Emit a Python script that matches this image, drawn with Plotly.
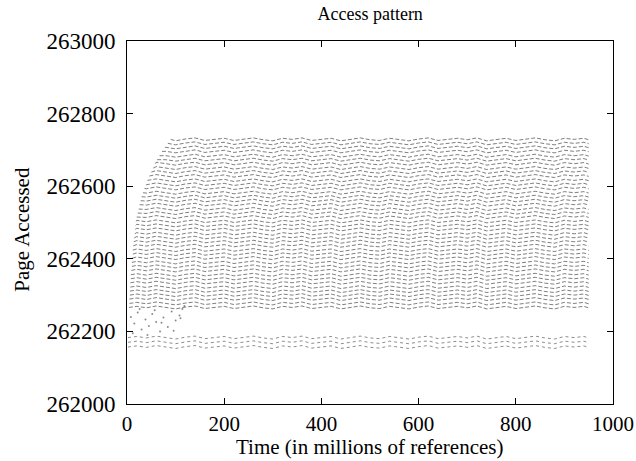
import plotly.graph_objects as go

# Page rows of the main working set (upper band)
upper_pages = [262266, 262277, 262289, 262300, 262311, 262322, 262334, 262345,
               262356, 262368, 262379, 262390, 262402, 262413, 262424, 262436,
               262447, 262458, 262469, 262481, 262492, 262503, 262515, 262526,
               262537, 262549, 262560, 262571, 262582, 262594, 262605, 262616,
               262628, 262639, 262650, 262662, 262673, 262684, 262696, 262707,
               262718, 262729]
# Time (millions of references) at which each upper row is first touched
upper_start = [4, 5, 5, 6, 6, 7, 7, 8, 8, 9, 10, 10, 11, 12, 12, 13, 14, 15,
               16, 17, 18, 19, 20, 22, 24, 26, 28, 30, 33, 36, 39, 42, 46, 50,
               54, 58, 62, 67, 72, 78, 84, 90]

# Lower band rows (small, separately accessed region)
lower_pages = [262183, 262170, 262157]
lower_start = [2, 2, 2]

end_time = 950

# Sampling times and the drift of each row around its page number
knot_t = [0, 20, 40, 60, 80, 100, 120, 140, 160, 180, 200, 220, 240, 260, 280,
          300, 320, 340, 360, 380, 400, 420, 440, 460, 480, 500, 520, 540, 560,
          580, 600, 620, 640, 660, 680, 700, 720, 740, 760, 780, 800, 820, 840,
          860, 880, 900, 920, 940, 950]
drift = [0, 3, -1, 4, 0, -4, 1, 4, -3, 0, 3, -3, 1, 4, -1, -4, 3, 0, 4, -3,
         0, 3, -4, 1, 4, -1, -3, 3, 0, -4, 1, 4, -3, 0, 3, -1, 4, -4, 0, 3,
         -3, 1, 4, -1, -4, 3, 0, 3, -1]

# Scattered early accesses in the gap between the two bands
sparse_t = [8, 15, 22, 30, 38, 45, 52, 60, 68, 75, 84, 92, 100, 108, 114, 118,
            12, 26, 42, 57, 71, 96, 110]
sparse_p = [262240, 262222, 262252, 262205, 262233, 262215, 262248, 262226,
            262200, 262238, 262212, 262255, 262230, 262244, 262262, 262270,
            262195, 262262, 262190, 262258, 262224, 262202, 262236]


def row_path(page, start):
    xs, ys = [start], [page + drift[0]]
    for t, d in zip(knot_t, drift):
        if start < t <= end_time:
            xs.append(t)
            ys.append(page + d)
    return xs, ys


def band_trace(pages, starts, dash, color):
    bx, by = [], []
    for p, s in zip(pages, starts):
        xs, ys = row_path(p, s)
        bx += xs + [None]
        by += ys + [None]
    return go.Scatter(x=bx, y=by, mode="lines", connectgaps=False,
                      line=dict(color=color, width=1, dash=dash),
                      hoverinfo="skip", showlegend=False)


fig = go.Figure()
fig.add_trace(band_trace(upper_pages, upper_start, "4px,2px", "rgba(0,0,0,0.5)"))
fig.add_trace(band_trace(lower_pages, lower_start, "3px,3px", "rgba(0,0,0,0.45)"))
fig.add_trace(go.Scatter(x=sparse_t, y=sparse_p, mode="markers",
                         marker=dict(size=2, color="rgba(0,0,0,0.45)"),
                         hoverinfo="skip", showlegend=False))

font = "Liberation Serif, Times New Roman, serif"
axis_common = dict(showline=True, linecolor="black", linewidth=1, mirror="ticks",
                   ticks="inside", ticklen=6, tickcolor="black", showgrid=False,
                   zeroline=False, automargin=False)

fig.update_layout(
    width=636, height=461,
    margin=dict(l=127, r=23, t=41, b=57),
    paper_bgcolor="white", plot_bgcolor="white",
    title=dict(text="Access pattern", x=0.582, xanchor="center", y=0.97,
               yanchor="middle", font=dict(family=font, size=18, color="black")),
    xaxis=dict(range=[0, 1000], tickvals=[0, 200, 400, 600, 800, 1000],
               ticklabelstandoff=1,
               tickfont=dict(family=font, size=21, color="black"),
               **axis_common),
    yaxis=dict(range=[262000, 263000],
               tickvals=[262000, 262200, 262400, 262600, 262800, 263000],
               ticktext=["262000", "262200", "262400", "262600", "262800", "263000"],
               ticklabelstandoff=6,
               tickfont=dict(family=font, size=23, color="black"),
               **axis_common),
    annotations=[
        dict(text="Time (in millions of references)", xref="paper", yref="paper",
             x=0.5, y=-0.118, xanchor="center", yanchor="middle", showarrow=False,
             font=dict(family=font, size=21, color="black")),
        dict(text="Page Accessed", xref="paper", yref="paper", textangle=-90,
             x=-0.216, y=0.48, xanchor="center", yanchor="middle", showarrow=False,
             font=dict(family=font, size=21, color="black")),
    ],
)

fig.write_html("out.html")
